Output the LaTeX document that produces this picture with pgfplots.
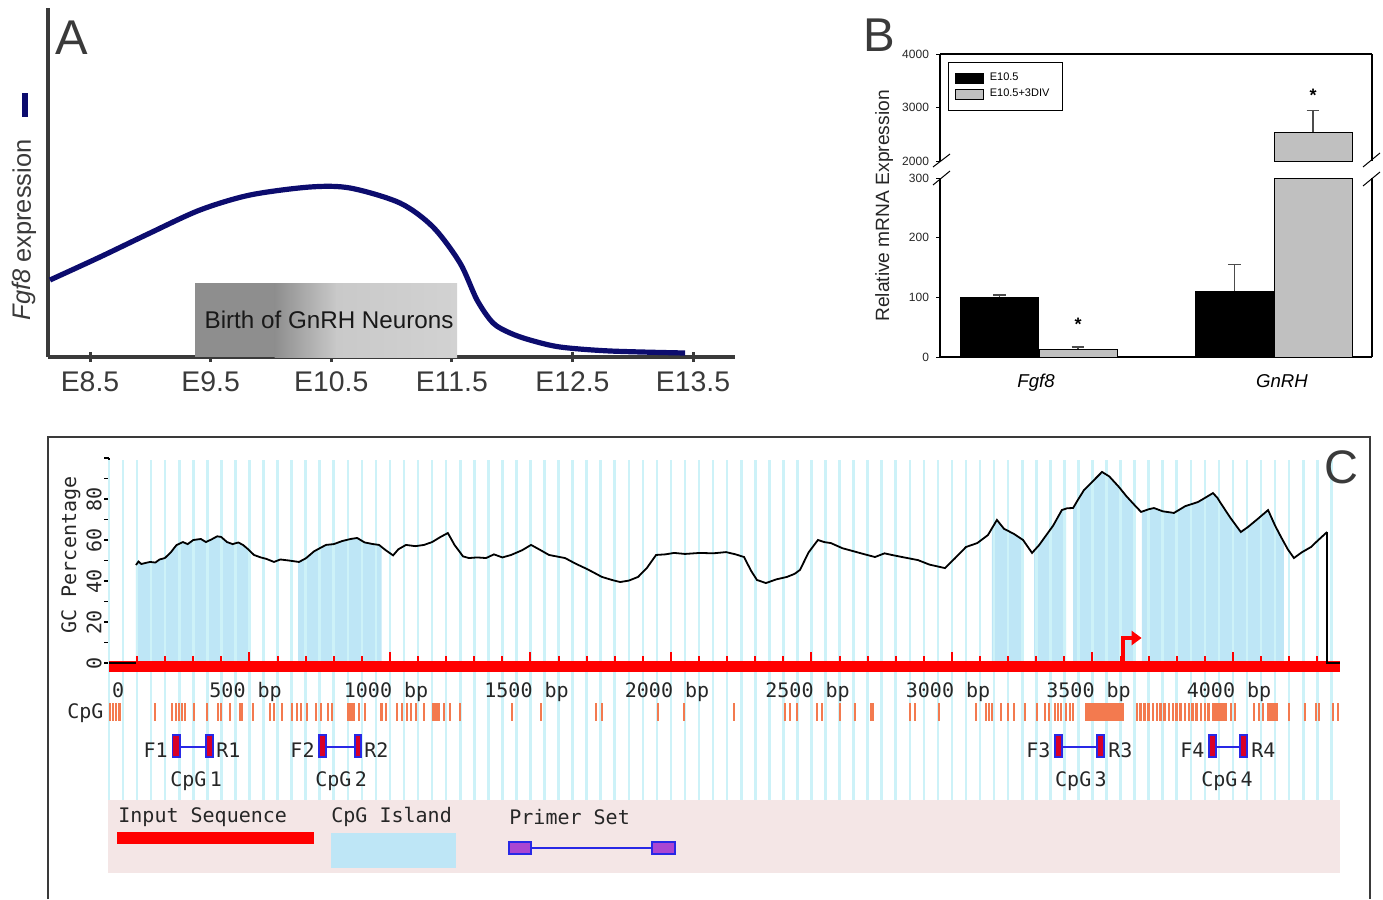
\documentclass[border=0pt]{standalone}
\usepackage{fontspec}
\setmainfont{Liberation Sans}
\newfontfamily\mono{DejaVu Sans Mono}
\usepackage{pgfplots}
\pgfplotsset{compat=1.18}
\usepackage{pgfplotstable}
\usepgfplotslibrary{fillbetween}
\usetikzlibrary{arrows.meta}

\definecolor{navy}{RGB}{12,12,110}
\definecolor{axgray}{RGB}{58,58,58}
\definecolor{bargray}{RGB}{192,192,192}
\definecolor{island}{RGB}{190,230,246}
\definecolor{stripe}{RGB}{205,242,248}
\definecolor{cpg}{RGB}{243,122,79}
\definecolor{legpink}{RGB}{244,230,230}
\definecolor{primred}{RGB}{215,0,40}
\definecolor{primblue}{RGB}{40,40,230}
\definecolor{purp}{RGB}{170,70,210}

% Panel A: Fgf8 expression curve
\pgfplotstableread{
d h
8.168 77
8.583 100
8.998 124
9.412 147
9.827 162
10.324 170
10.656 169
11.070 154
11.344 130
11.568 94
11.709 57
11.842 34
11.983 24
12.148 17
12.397 10
12.812 6
13.434 4
}\curveA

% Panel C: GC percentage
\pgfplotstableread{
bp gc
96 47.8
105 49.5
115 48.3
130 48.8
146 49.3
165 49.0
180 50.5
199 51.2
220 54.0
240 57.5
263 59.0
280 58.0
300 60.0
327 60.5
345 59.0
365 60.3
385 61.8
399 61.5
420 59.0
440 58.0
460 58.8
477 57.6
495 55.5
516 52.7
540 51.5
560 50.8
587 49.3
610 50.5
640 50.0
676 49.3
700 51.0
730 54.5
772 57.6
800 58.0
830 59.5
860 60.5
883 61.0
910 58.8
940 58.0
961 57.6
985 55.0
1011 52.5
1030 55.5
1057 57.6
1090 57.0
1121 57.6
1150 59.0
1180 61.5
1206 63.4
1230 57.5
1260 52.0
1281 51.2
1310 51.5
1342 51.2
1370 53.0
1400 51.5
1431 52.7
1470 55.0
1502 57.6
1530 55.5
1566 52.7
1600 51.8
1623 51.2
1660 48.5
1694 46.3
1720 44.5
1754 42.0
1790 40.5
1819 39.5
1850 40.2
1883 42.0
1915 46.5
1947 52.7
1980 53.0
2011 53.7
2050 53.2
2103 53.7
2150 53.5
2196 54.1
2230 53.0
2260 51.7
2285 45.0
2306 40.5
2338 39.0
2375 40.8
2413 42.0
2440 43.5
2459 45.4
2490 54.0
2523 60.0
2545 59.0
2569 58.5
2610 56.0
2650 54.5
2690 53.0
2726 51.7
2760 53.5
2786 52.7
2830 51.5
2879 50.2
2920 48.0
2975 46.3
3010 51.0
3050 56.6
3090 58.5
3128 62.4
3160 69.8
3185 65.5
3220 63.0
3253 60.0
3285 53.7
3310 57.5
3331 61.5
3360 67.0
3391 74.6
3410 75.5
3431 75.6
3450 80.0
3470 84.4
3500 88.5
3534 93.2
3560 91.0
3594 85.9
3620 81.5
3650 77.0
3673 73.7
3700 75.0
3719 75.6
3750 74.0
3790 73.2
3830 76.5
3875 78.5
3900 80.5
3929 82.9
3945 80.5
3954 78.5
3990 71.0
4028 63.9
4053 66.3
4090 70.5
4125 74.6
4150 67.0
4171 61.5
4195 55.5
4217 51.2
4245 54.0
4278 56.6
4300 59.5
4335 63.9
}\gcdata

\begin{document}
\begin{tikzpicture}
\begin{scope}[x=0.5pt,y=-0.5pt]
\path[use as bounding box] (0,0) rectangle (1383,899);
\end{scope}

%================ Panel A ================
\begin{axis}[at={(24pt,-178.5pt)}, anchor=south west, scale only axis,
  width=343.5pt, height=174.5pt,
  xmin=8.1517, xmax=13.848, ymin=0, ymax=349,
  axis x line=bottom, axis y line=left,
  axis line style={-, line width=2pt, color=axgray},
  every inner x axis line/.append style={-}, every inner y axis line/.append style={-},
  every outer x axis line/.append style={-}, every outer y axis line/.append style={-},
  xtick={8.5,9.5,10.5,11.5,12.5,13.5},
  xticklabels={E8.5,E9.5,E10.5,E11.5,E12.5,E13.5},
  ytick=\empty, tick align=center, major tick length=5pt,
  x tick style={line width=1.5pt, color=axgray},
  xticklabel style={font=\fontsize{14.2}{17}\selectfont, text=axgray, anchor=base, yshift=-14.5pt},
  clip=false]
\fill[color={rgb,255:red,142;green,142;blue,142}] (axis cs:9.371,0) rectangle (axis cs:10.04,74);
\shade[left color={rgb,255:red,142;green,142;blue,142}, right color={rgb,255:red,201;green,201;blue,201}]
  (axis cs:10.03,0) rectangle (axis cs:10.55,74);
\shade[left color={rgb,255:red,201;green,201;blue,201}, right color={rgb,255:red,210;green,210;blue,210}]
  (axis cs:10.54,0) rectangle (axis cs:11.543,74);
\node[font=\fontsize{12.1}{14}\selectfont, text={rgb,255:red,25;green,25;blue,25}] at (axis cs:10.482,37) {Birth of GnRH Neurons};
\addplot[navy, line width=2.6pt, smooth, mark=none] table[x=d,y=h]{\curveA};
\end{axis}

%================ Panel B lower ================
\begin{axis}[at={(470pt,-178.5pt)}, anchor=south west, scale only axis,
  width=216pt, height=89.5pt,
  xmin=940, xmax=1372, ymin=0, ymax=300,
  axis x line=bottom, axis y line=box,
  axis line style={-, line width=0.6pt, black},
  every inner x axis line/.append style={-}, every outer x axis line/.append style={-},
  ytick={0,100,200,300}, ytick pos=left, tick align=outside, major tick length=2pt,
  y tick style={line width=0.5pt, black},
  xtick={1036,1282}, xticklabels={\textit{Fgf8},\textit{GnRH}}, x tick style={draw=none},
  /pgf/number format/assume math mode=true,
  yticklabel style={font=\fontsize{6}{7}\selectfont, text=black!85},
  xticklabel style={font=\fontsize{9.3}{11}\selectfont, anchor=base, yshift=-13pt},
  ]
\addplot[ybar, bar width=39pt, bar shift=0pt, fill=black, draw=black, line width=0.4pt,
  error bars/.cd, y dir=plus, y explicit,
  error bar style={line width=0.6pt, black!70},
  error mark options={rotate=90, mark size=3.2pt, line width=0.7pt, black!70}]
  coordinates {(999.5,100) +- (0,4) (1234.5,110.5) +- (0,45)};
\addplot[ybar, bar width=39pt, bar shift=0pt, fill=bargray, draw=black, line width=0.4pt,
  error bars/.cd, y dir=plus, y explicit,
  error bar style={line width=0.6pt, black!70},
  error mark options={rotate=90, mark size=3.2pt, line width=0.7pt, black!70}]
  coordinates {(1078,13) +- (0,4)};
\addplot[ybar, bar width=39pt, bar shift=0pt, fill=bargray, draw=black, line width=0.4pt]
  coordinates {(1313,2536)};
\draw[line width=0.4pt] (axis cs:1274,300) -- (axis cs:1352,300);
\node[font=\bfseries\fontsize{9}{10}\selectfont] at (axis cs:1078,55) {*};
\end{axis}

%================ Panel B upper ================
\begin{axis}[at={(470pt,-80.5pt)}, anchor=south west, scale only axis,
  width=216pt, height=53.5pt,
  xmin=940, xmax=1372, ymin=2000, ymax=4000,
  axis x line=top, axis y line=box,
  axis line style={-, line width=0.6pt, black},
  every inner x axis line/.append style={-}, every outer x axis line/.append style={-},
  ytick={2000,3000,4000}, ytick pos=left, tick align=outside, major tick length=2pt,
  y tick style={line width=0.5pt, black},
  xtick=\empty,
  /pgf/number format/assume math mode=true,
  /pgf/number format/1000 sep={},
  yticklabel style={font=\fontsize{6}{7}\selectfont, text=black!85},
  legend style={at={(0.0185,0.925)}, anchor=north west, draw=black, line width=0.4pt,
    font=\fontsize{5.5}{6.5}\selectfont, inner xsep=3.5pt, inner ysep=4.5pt, row sep=0.8pt,
    nodes={inner xsep=2.8pt, inner ysep=0.9pt}},
  legend cell align=left,
  legend image code/.code={\draw[#1, line width=0.4pt] (0pt,-2.5pt) rectangle (14pt,2.5pt);},
  ]
\addlegendimage{fill=black, draw=black}
\addlegendentry{E10.5}
\addlegendimage{fill=bargray, draw=black}
\addlegendentry{E10.5+3DIV}
\addplot[ybar, bar width=39pt, bar shift=0pt, fill=bargray, draw=black, line width=0.4pt,
  forget plot,
  error bars/.cd, y dir=plus, y explicit,
  error bar style={line width=0.6pt, black!70},
  error mark options={rotate=90, mark size=3.2pt, line width=0.7pt, black!70}]
  coordinates {(1313,2536) +- (0,404)};
\draw[line width=0.4pt] (axis cs:1274,2000) -- (axis cs:1352,2000);
\node[font=\bfseries\fontsize{9}{10}\selectfont] at (axis cs:1313,3230) {*};
\end{axis}

%================ Panel C tracks ================
\begin{axis}[at={(54.5pt,-400pt)}, anchor=south west, scale only axis,
  width=615.5pt, height=170pt,
  xmin=0, xmax=4381, ymin=0, ymax=340,
  hide axis,
  clip=false]
% background stripes every 50 bp
\addplot[ycomb, stripe, line width=1.3pt, mark=none] coordinates {
(0,340)(50,340)(100,340)(150,340)(200,340)(250,340)(300,340)(350,340)(400,340)(450,340)
(500,340)(550,340)(600,340)(650,340)(700,340)(750,340)(800,340)(850,340)(900,340)(950,340)
(1000,340)(1050,340)(1100,340)(1150,340)(1200,340)(1250,340)(1300,340)(1350,340)(1400,340)(1450,340)
(1500,340)(1550,340)(1600,340)(1650,340)(1700,340)(1750,340)(1800,340)(1850,340)(1900,340)(1950,340)
(2000,340)(2050,340)(2100,340)(2150,340)(2200,340)(2250,340)(2300,340)(2350,340)(2400,340)(2450,340)
(2500,340)(2550,340)(2600,340)(2650,340)(2700,340)(2750,340)(2800,340)(2850,340)(2900,340)(2950,340)
(3000,340)(3050,340)(3100,340)(3150,340)(3200,340)(3250,340)(3300,340)(3350,340)(3400,340)(3450,340)
(3500,340)(3550,340)(3600,340)(3650,340)(3700,340)(3750,340)(3800,340)(3850,340)(3900,340)(3950,340)
(4000,340)(4050,340)(4100,340)(4150,340)(4200,340)(4250,340)(4300,340)(4350,340)};
% CpG sites
\addplot[only marks, mark=|, mark size=4.5pt, mark options={line width=1.3pt, cpg}] coordinates {
(4,88)(14,88)(25,88)(37,88)(164,88)(224,88)(238,88)(249,88)(260,88)(270,88)(302,88)(349,88)
(388,88)(399,88)(431,88)(466,88)(473,88)(512,88)(573,88)(587,88)(616,88)(651,88)(669,88)(683,88)
(705,88)(737,88)(754,88)(779,88)(794,88)(851,88)(858,88)(865,88)(872,88)(890,88)(911,88)(970,88)
(986,88)(1025,88)(1043,88)(1060,88)(1075,88)(1093,88)(1121,88)(1153,88)(1160,88)(1167,88)(1174,88)
(1192,88)(1214,88)(1249,88)(1434,88)(1537,88)(1733,88)(1754,88)(1954,88)(2046,88)(2224,88)
(2406,88)(2423,88)(2448,88)(2520,88)(2537,88)(2601,88)(2655,88)(2712,88)(2719,88)(2851,88)
(2868,88)(2954,88)(3085,88)(3121,88)(3132,88)(3142,88)(3174,88)(3199,88)(3221,88)(3260,88)
(3302,88)(3331,88)(3345,88)(3367,88)(3377,88)(3388,88)(3406,88)(3420,88)(3431,88)
(3477,88)(3484,88)(3491,88)(3498,88)(3505,88)(3512,88)(3519,88)(3526,88)(3533,88)(3541,88)
(3548,88)(3555,88)(3562,88)(3569,88)(3576,88)(3583,88)(3590,88)(3597,88)(3604,88)(3609,88)
(3658,88)(3672,88)(3686,88)(3700,88)(3715,88)(3729,88)(3743,88)(3757,88)(3772,88)(3786,88)
(3800,88)(3814,88)(3829,88)(3843,88)(3857,88)(3871,88)(3886,88)(3900,88)(3914,88)
(3929,88)(3936,88)(3943,88)(3950,88)(3957,88)(3964,88)(3971,88)(3975,88)(3993,88)(4007,88)
(4075,88)(4093,88)(4107,88)(4125,88)(4132,88)(4139,88)(4146,88)(4153,88)(4157,88)
(4199,88)(4256,88)(4295,88)(4306,88)(4356,88)(4374,88)};
% primer sets
\addplot[primblue, line width=1.1pt] coordinates {(252,53)(345,53)};
\addplot[primblue, line width=1.1pt] coordinates {(772,53)(875,53)};
\addplot[primblue, line width=1.1pt] coordinates {(3391,53)(3516,53)};
\addplot[primblue, line width=1.1pt] coordinates {(3940,53)(4025,53)};
\addplot[fill=primred, draw=primblue, line width=0.9pt] coordinates {(226,43)(252,43)(252,65)(226,65)} -- cycle;
\addplot[fill=primred, draw=primblue, line width=0.9pt] coordinates {(345,43)(370,43)(370,65)(345,65)} -- cycle;
\addplot[fill=primred, draw=primblue, line width=0.9pt] coordinates {(747,43)(772,43)(772,65)(747,65)} -- cycle;
\addplot[fill=primred, draw=primblue, line width=0.9pt] coordinates {(875,43)(897,43)(897,65)(875,65)} -- cycle;
\addplot[fill=primred, draw=primblue, line width=0.9pt] coordinates {(3367,43)(3391,43)(3391,65)(3367,65)} -- cycle;
\addplot[fill=primred, draw=primblue, line width=0.9pt] coordinates {(3516,43)(3541,43)(3541,65)(3516,65)} -- cycle;
\addplot[fill=primred, draw=primblue, line width=0.9pt] coordinates {(3915,43)(3940,43)(3940,65)(3915,65)} -- cycle;
\addplot[fill=primred, draw=primblue, line width=0.9pt] coordinates {(4025,43)(4050,43)(4050,65)(4025,65)} -- cycle;
\begin{scope}[every node/.style={font=\mono\fontsize{10}{12}\selectfont, text=black!85, inner sep=0pt}]
\node[anchor=base east] at (axis cs:-18,82) {CpG};
\node[anchor=base east] at (axis cs:210,43) {F1};
\node[anchor=base west] at (axis cs:381,43) {R1};
\node[anchor=base east] at (axis cs:733,43) {F2};
\node[anchor=base west] at (axis cs:907,43) {R2};
\node[anchor=base east] at (axis cs:3352,43) {F3};
\node[anchor=base west] at (axis cs:3555,43) {R3};
\node[anchor=base east] at (axis cs:3900,43) {F4};
\node[anchor=base west] at (axis cs:4064,43) {R4};
\node[anchor=base] at (axis cs:310,14) {CpG\,1};
\node[anchor=base] at (axis cs:826,14) {CpG\,2};
\node[anchor=base] at (axis cs:3459,14) {CpG\,3};
\node[anchor=base] at (axis cs:3979,14) {CpG\,4};
\end{scope}
\end{axis}

%================ Panel C GC plot ================
\begin{axis}[at={(54.5pt,-331.5pt)}, anchor=south west, scale only axis,
  width=615.5pt, height=102.5pt,
  xmin=0, xmax=4381, ymin=0, ymax=100,
  axis x line=none, axis y line=left,
  axis line style={-, black, line width=0.8pt},
  every inner y axis line/.append style={-}, every outer y axis line/.append style={-},
  ytick={0,20,40,60,80}, extra y ticks={100}, extra y tick labels={},
  minor ytick={10,30,50,70,90},
  tick align=outside, major tick length=2.5pt, minor tick length=2.5pt,
  y tick style={black, line width=0.6pt},
  /pgf/number format/assume math mode=true,
  yticklabel style={font=\mono\fontsize{10}{12}\selectfont, text=black!85, rotate=90, anchor=south, inner sep=1pt},
  clip=false]
\addplot[draw=none, name path=gc] table[x=bp,y=gc]{\gcdata};
\path[name path=base] (axis cs:0,0) -- (axis cs:4381,0);
\addplot[island] fill between[of=gc and base, soft clip={domain=96:496}];
\addplot[island] fill between[of=gc and base, soft clip={domain=673:970}];
\addplot[island] fill between[of=gc and base, soft clip={domain=3142:3249}];
\addplot[island] fill between[of=gc and base, soft clip={domain=3292:3406}];
\addplot[island] fill between[of=gc and base, soft clip={domain=3431:3648}];
\addplot[island] fill between[of=gc and base, soft clip={domain=3676:4181}];
% input sequence bar and ruler ticks
\addplot[red, line width=5.5pt] coordinates {(0,-1.7)(4381,-1.7)};
\addplot[red, ycomb, line width=1pt] coordinates {
(100,3.4)(200,3.4)(300,3.4)(400,3.4)(600,3.4)(700,3.4)(800,3.4)(900,3.4)
(1100,3.4)(1200,3.4)(1300,3.4)(1400,3.4)(1600,3.4)(1700,3.4)(1800,3.4)(1900,3.4)
(2100,3.4)(2200,3.4)(2300,3.4)(2400,3.4)(2600,3.4)(2700,3.4)(2800,3.4)(2900,3.4)
(3100,3.4)(3200,3.4)(3300,3.4)(3400,3.4)(3600,3.4)(3700,3.4)(3800,3.4)(3900,3.4)
(4100,3.4)(4200,3.4)(4300,3.4)};
\addplot[red, ycomb, line width=1pt] coordinates {
(500,5.6)(1000,5.6)(1500,5.6)(2000,5.6)(2500,5.6)(3000,5.6)(3500,5.6)(4000,5.6)};
\addplot[red, line width=2pt, -{Triangle[length=5pt,width=7pt]}] coordinates {(3609,0)(3609,12.2)(3675,12.2)};
\addplot[black, line width=0.8pt] coordinates {(0,0)(96,0)};
\addplot[black, line width=0.8pt] coordinates {(4335,63.9)(4335,0)(4381,0)};
\addplot[black, line width=0.9pt] table[x=bp,y=gc]{\gcdata};
\begin{scope}[every node/.style={font=\mono\fontsize{10}{12}\selectfont, text=black!85, inner sep=0pt}]
\node[anchor=base west] at (axis cs:10,-16.6) {0};
\node[anchor=base] at (axis cs:486,-16.6) {500 bp};
\node[anchor=base] at (axis cs:986,-16.6) {1000 bp};
\node[anchor=base] at (axis cs:1486,-16.6) {1500 bp};
\node[anchor=base] at (axis cs:1986,-16.6) {2000 bp};
\node[anchor=base] at (axis cs:2486,-16.6) {2500 bp};
\node[anchor=base] at (axis cs:2986,-16.6) {3000 bp};
\node[anchor=base] at (axis cs:3486,-16.6) {3500 bp};
\node[anchor=base] at (axis cs:3986,-16.6) {4000 bp};
\end{scope}
\end{axis}

%================ Decorations in image coordinates ================
\begin{scope}[x=0.5pt,y=-0.5pt]
% Panel A
\node[font=\fontsize{24.4}{28}\selectfont, text=axgray] at (72,38) {A};
\node[rotate=90, anchor=base, font=\fontsize{12.7}{15}\selectfont, text=axgray] at (31,230) {\textit{Fgf8} expression};
\draw[navy, line width=2.6pt] (25,93) -- (25,117);
% Panel B
\node[font=\fontsize{23.7}{28}\selectfont, text=axgray] at (879,35) {B};
\node[rotate=90, anchor=base, font=\fontsize{9.6}{11}\selectfont, text=black!85] at (889,206) {Relative mRNA Expression};
\draw[line width=0.5pt] (933,167) -- (950,154);
\draw[line width=0.5pt] (933,185) -- (950,171);
\draw[line width=0.5pt] (1363,167) -- (1380,153);
\draw[line width=0.5pt] (1363,186) -- (1380,172);
% Panel C frame
\draw[axgray, line width=1pt] (48,899) -- (48,437) -- (1370,437) -- (1370,899);
\node[font=\fontsize{23.5}{28}\selectfont, text=axgray] at (1341,467) {C};
\node[rotate=90, anchor=base, font=\mono\fontsize{10}{12}\selectfont, text=black!85] at (76,555) {GC Percentage};
% legend strip
\fill[legpink] (108,800) rectangle (1340,873);
\node[anchor=base west, inner sep=0pt, font=\mono\fontsize{10}{12}\selectfont, text=black!85] at (118,822) {Input Sequence};
\node[anchor=base west, inner sep=0pt, font=\mono\fontsize{10}{12}\selectfont, text=black!85] at (331,822) {CpG Island};
\node[anchor=base west, inner sep=0pt, font=\mono\fontsize{10}{12}\selectfont, text=black!85] at (509,824) {Primer Set};
\fill[red] (117,832) rectangle (314,844);
\fill[island] (331,833) rectangle (456,868);
\draw[primblue, line width=1pt] (531,848) -- (652,848);
\draw[fill=purp, draw=primblue, line width=0.9pt] (509,842) rectangle (531,854);
\draw[fill=purp, draw=primblue, line width=0.9pt] (652,842) rectangle (675,854);
\end{scope}
\end{tikzpicture}
\end{document}
